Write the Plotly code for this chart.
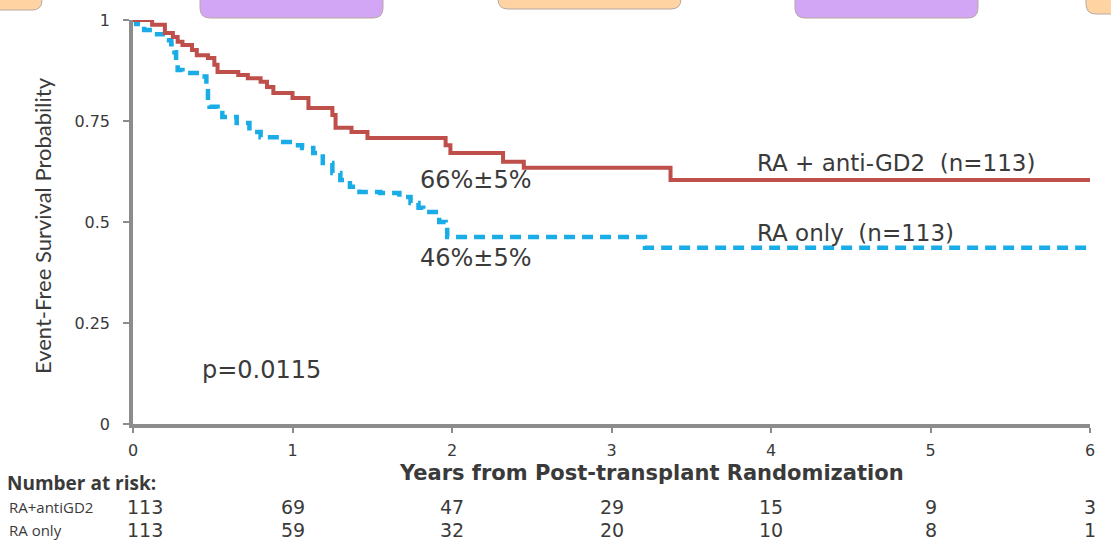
import plotly.graph_objects as go

# Kaplan-Meier step estimates (years, survival probability)
red_t = [0, 0.12, 0.20, 0.25, 0.28, 0.31, 0.37, 0.40, 0.47, 0.51, 0.53, 0.66, 0.72,
         0.80, 0.84, 0.88, 1.00, 1.10, 1.25, 1.27, 1.37, 1.47, 1.96, 1.99, 2.32,
         2.45, 3.37, 6.0]
red_s = [1.0, 0.988, 0.968, 0.958, 0.946, 0.938, 0.926, 0.913, 0.906, 0.889, 0.871,
         0.864, 0.856, 0.847, 0.834, 0.819, 0.807, 0.782, 0.765, 0.733, 0.723, 0.708,
         0.69, 0.671, 0.649, 0.634, 0.604, 0.604]

blue_t = [0, 0.02, 0.07, 0.12, 0.20, 0.24, 0.26, 0.27, 0.28, 0.31, 0.42, 0.46, 0.47,
          0.48, 0.53, 0.56, 0.65, 0.73, 0.80, 0.92, 1.00, 1.06, 1.13, 1.19, 1.25,
          1.30, 1.36, 1.42, 1.55, 1.67, 1.74, 1.79, 1.82, 1.92, 1.96, 1.97, 3.21, 6.0]
blue_s = [1.0, 0.99, 0.975, 0.965, 0.95, 0.94, 0.92, 0.90, 0.876, 0.869, 0.86, 0.83,
          0.80, 0.785, 0.77, 0.76, 0.745, 0.723, 0.71, 0.698, 0.69, 0.683, 0.671,
          0.646, 0.621, 0.604, 0.587, 0.574, 0.572, 0.562, 0.547, 0.535, 0.525, 0.50,
          0.488, 0.463, 0.436, 0.436]

x_ticks = [0, 1, 2, 3, 4, 5, 6]
y_ticks = [0, 0.25, 0.5, 0.75, 1]
y_tick_text = ["0", "0.25", "0.5", "0.75", "1"]

risk_years = [0, 1, 2, 3, 4, 5, 6]
risk_combo = [113, 69, 47, 29, 15, 9, 3]
risk_ra_only = [113, 59, 32, 20, 10, 8, 1]

RED = "#BF4F4B"
BLUE = "#1AACE6"
AXIS = "#8C8C8C"
TXT = "#3A3A3A"

W, H = 1111, 547
L, R, T, B = 133, 21, 20, 123
PW, PH = W - L - R, H - T - B


def px(x):
    return (x - L) / PW


def py(y):
    return (H - B - y) / PH


fig = go.Figure()
fig.add_trace(go.Scatter(x=blue_t, y=blue_s, mode="lines", line_shape="hv",
                         line=dict(color=BLUE, width=4.5, dash="11px,7px"),
                         cliponaxis=False, showlegend=False))
fig.add_trace(go.Scatter(x=red_t, y=red_s, mode="lines", line_shape="hv",
                         line=dict(color=RED, width=4),
                         cliponaxis=False, showlegend=False))

ann = []
font_v = "DejaVu Sans"


def note(x, y, text, size, family=font_v, xref="x", yref="y", xanchor="center",
         **kw):
    ann.append(dict(x=x, y=y, xref=xref, yref=yref, text=text, showarrow=False,
                    xanchor=xanchor, yanchor="middle",
                    font=dict(family=family, size=size, color=TXT), **kw))


note(2.15, 0.604, "66%±5%", 24)
note(2.15, 0.411, "46%±5%", 24)
note(3.9, 0.646, "RA + anti-GD2  (n=113)", 23, xanchor="left")
note(3.9, 0.473, "RA only  (n=113)", 23, xanchor="left")
note(0.42, 0.134, "p=0.0115", 24, xanchor="left")

# axis titles
note(px(651), py(473), "<b>Years from Post-transplant Randomization</b>", 21,
     xref="paper", yref="paper")
note(px(42), py(226), "Event-Free Survival Probability", 22, family="Lato",
     xref="paper", yref="paper", textangle=-90)

# number-at-risk table
note(px(5), py(483), "<b>Number at risk:</b>", 19, family="Open Sans",
     xref="paper", yref="paper", xanchor="left")
note(px(7), py(507), "RA+antiGD2", 15, family="Open Sans",
     xref="paper", yref="paper", xanchor="left")
note(px(7), py(530), "RA only", 15, family="Open Sans",
     xref="paper", yref="paper", xanchor="left")
for yr, a, b in zip(risk_years, risk_combo, risk_ra_only):
    shift = 12 if yr == 0 else 0
    for val, ypix in ((a, 507), (b, 530)):
        note(yr, py(ypix), str(val), 19, yref="paper", xshift=shift)


# rounded tabs along the top edge
def tab(x0, x1, ybot, fill):
    r = 10
    top = -10
    path = (f"M {px(x0)},{py(top)} L {px(x0)},{py(ybot - r)} "
            f"Q {px(x0)},{py(ybot)} {px(x0 + r)},{py(ybot)} "
            f"L {px(x1 - r)},{py(ybot)} Q {px(x1)},{py(ybot)} {px(x1)},{py(ybot - r)} "
            f"L {px(x1)},{py(top)} Z")
    return dict(type="path", xref="paper", yref="paper", path=path,
                fillcolor=fill, line=dict(color="#B8A8A0", width=1), layer="above")


shapes = [
    tab(-160, 42, 10, "#FFD3A2"),
    tab(200, 383, 18, "#D2A6F5"),
    tab(498, 681, 9, "#FFD3A2"),
    tab(795, 978, 18, "#D2A6F5"),
    tab(1086, 1270, 14, "#FFD3A2"),
]

fig.update_layout(
    width=W, height=H,
    margin=dict(l=L, r=R, t=T, b=B),
    paper_bgcolor="white", plot_bgcolor="white",
    annotations=ann, shapes=shapes,
    xaxis=dict(range=[0, 6], tickvals=x_ticks, showgrid=False, zeroline=False,
               showline=True, linecolor=AXIS, linewidth=3.5,
               ticks="outside", ticklen=5, tickwidth=2, tickcolor=AXIS,
               ticklabelstandoff=4,
               tickfont=dict(family=font_v, size=16, color=TXT)),
    yaxis=dict(range=[0, 1], tickvals=y_ticks, ticktext=y_tick_text, showgrid=False,
               zeroline=False, showline=True, linecolor=AXIS, linewidth=3.5,
               ticks="outside", ticklen=6, tickwidth=2, tickcolor=AXIS,
               ticklabelstandoff=10,
               tickfont=dict(family=font_v, size=16, color=TXT)),
)

fig.write_html("out.html")
